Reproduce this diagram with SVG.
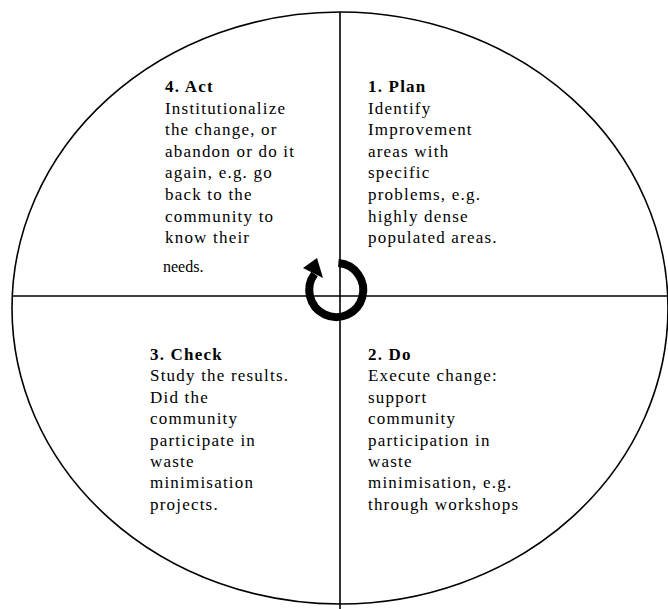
<svg xmlns="http://www.w3.org/2000/svg" width="668" height="609" viewBox="0 0 668 609">
<style>
.t{font-family:"Liberation Serif","Times New Roman",serif;font-size:17px;letter-spacing:1.2px;fill:#000}
.b{font-weight:bold}
.ln{stroke:#000;stroke-width:1.6;fill:none}
</style>
<rect width="668" height="609" fill="#fff"/>
<g id="connectors">
<ellipse class="ln" cx="340" cy="308" rx="328" ry="296"/>
<line class="ln" x1="12" y1="296" x2="668" y2="296"/>
<line class="ln" x1="340" y1="12" x2="340" y2="609"/>
<path d="M338.4 263.1 A27 27 0 1 1 314.5 274" fill="none" stroke="#000" stroke-width="8"/>
<polygon points="303,268 323,278 317,258" fill="#000"/>
</g>
<g id="act">
<text class="t" x="165" y="92"><tspan class="b">4. Act</tspan><tspan x="165" dy="21.6">Institutionalize</tspan><tspan x="165" dy="21.6">the change, or</tspan><tspan x="165" dy="21.6">abandon or do it</tspan><tspan x="165" dy="21.6">again, e.g. go</tspan><tspan x="165" dy="21.6">back to the</tspan><tspan x="165" dy="21.6">community to</tspan><tspan x="165" dy="21.6">know their</tspan></text>
<text x="163" y="272" style="font-family:'Liberation Serif','Times New Roman',serif;font-size:16px">needs.</text>
</g>
<g id="plan">
<text class="t" x="368" y="92"><tspan class="b">1. Plan</tspan><tspan x="368" dy="21.6">Identify</tspan><tspan x="368" dy="21.6">Improvement</tspan><tspan x="368" dy="21.6">areas with</tspan><tspan x="368" dy="21.6">specific</tspan><tspan x="368" dy="21.6">problems, e.g.</tspan><tspan x="368" dy="21.6">highly dense</tspan><tspan x="368" dy="21.6">populated areas.</tspan></text>
</g>
<g id="check">
<text class="t" x="150" y="360"><tspan class="b">3. Check</tspan><tspan x="150" dy="21.4">Study the results.</tspan><tspan x="150" dy="21.4">Did the</tspan><tspan x="150" dy="21.4">community</tspan><tspan x="150" dy="21.4">participate in</tspan><tspan x="150" dy="21.4">waste</tspan><tspan x="150" dy="21.4">minimisation</tspan><tspan x="150" dy="21.4">projects.</tspan></text>
</g>
<g id="do">
<text class="t" x="368" y="360"><tspan class="b">2. Do</tspan><tspan x="368" dy="21.4">Execute change:</tspan><tspan x="368" dy="21.4">support</tspan><tspan x="368" dy="21.4">community</tspan><tspan x="368" dy="21.4">participation in</tspan><tspan x="368" dy="21.4">waste</tspan><tspan x="368" dy="21.4">minimisation, e.g.</tspan><tspan x="368" dy="21.4">through workshops</tspan></text>
</g>
</svg>
